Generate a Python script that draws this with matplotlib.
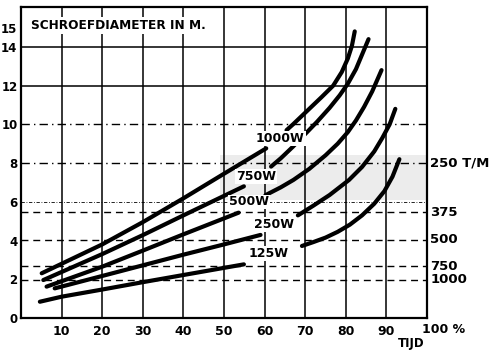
import matplotlib
matplotlib.use('Agg')
import matplotlib.pyplot as plt
import matplotlib.patches as mpatches

plt.rcParams['font.family'] = ['DejaVu Sans']

# data
pct_ticks = [10, 20, 30, 40, 50, 60, 70, 80, 90]
diam_ticks = [0, 2, 4, 6, 8, 10, 12, 14, 15]

rpm_labels = ['250 T/M', '375', '500', '750', '1000']
rpm_diam = [8.0, 5.45, 4.03, 2.68, 1.98]

power_labels = ['1000W', '750W', '500W', '250W', '125W']
label_pos = [(63.9, 9.28), (57.9, 7.3), (56.1, 6.0), (62.4, 4.84), (60.9, 3.34)]

# each curve is drawn in two pieces: below and above its label
lower_x = [
    [5.1, 20, 30, 40, 50, 60.4],
    [5.5, 20, 30, 40, 54.9],
    [6.3, 20, 30, 40, 53.6],
    [8.3, 20, 30, 40, 50, 59.0],
    [4.65, 10, 20, 30, 40, 54.9],
]
lower_y = [
    [2.31, 3.8, 4.95, 6.18, 7.45, 8.76],
    [1.96, 3.3, 4.28, 5.3, 6.8],
    [1.62, 2.65, 3.48, 4.32, 5.44],
    [1.53, 2.17, 2.72, 3.27, 3.8, 4.29],
    [0.84, 1.1, 1.47, 1.85, 2.22, 2.77],
]
upper_x = [
    [65.4, 67, 69, 71.5, 74, 76.9, 79, 80.5, 81.5, 82.2],
    [61.6, 64, 67, 70, 73, 76, 78.5, 80.5, 82.5, 84, 85.6],
    [60.2, 64, 67.1, 71, 75, 78, 80.5, 82.5, 84.5, 86.5, 88.8],
    [68.2, 72, 76, 80.8, 84, 87, 89, 90.8, 92.2],
    [69.2, 72, 75, 78, 81, 84, 87, 89.5, 91.5, 93.2],
]
upper_y = [
    [9.7, 10.0, 10.4, 10.9, 11.4, 12.0, 12.7, 13.4, 14.05, 14.8],
    [7.82, 8.25, 8.85, 9.5, 10.15, 10.85, 11.5, 12.1, 12.85, 13.6, 14.4],
    [6.34, 6.75, 7.13, 7.7, 8.4, 9.0, 9.6, 10.2, 10.9, 11.7, 12.8],
    [5.3, 5.8, 6.35, 7.13, 7.8, 8.6, 9.3, 10.0, 10.8],
    [3.72, 3.92, 4.15, 4.45, 4.82, 5.3, 5.9, 6.55, 7.3, 8.2],
]

fig = plt.figure(figsize=(4.97, 3.53), dpi=100)
ax = fig.add_axes([21 / 497, 1 - 318 / 353, 406 / 497, 311 / 353])
ax.set_xlim(0, 100)
ax.set_ylim(0, 16.06)

# faint grey scan shading
ax.add_patch(mpatches.Rectangle((49, 6.1), 51, 2.3, color='#ececec', lw=0, zorder=0))

# grid
for x in pct_ticks:
    ax.axvline(x, color='black', lw=1.1, zorder=1)
for y in [12, 14]:
    ax.axhline(y, color='black', lw=1.1, zorder=1)
ax.axhline(10, color='black', lw=1.0, dashes=(6, 3, 1, 3), zorder=1)
ax.axhline(6, color='black', lw=0.6, dashes=(4, 2, 1, 2), zorder=1)
for i, y in enumerate(rpm_diam):
    if i == 0:
        ax.axhline(y, color='black', lw=1.0, dashes=(6, 3, 1, 3), zorder=1)
    else:
        ax.axhline(y, color='black', lw=1.0, dashes=(5, 3.5), zorder=1)
    ax.text(100.8, y, rpm_labels[i], ha='left', va='center', fontsize=9.5,
            fontweight='bold', clip_on=False)

# curves
for i in range(len(power_labels)):
    ax.plot(lower_x[i], lower_y[i], color='black', lw=3.0,
            solid_capstyle='round', solid_joinstyle='round', zorder=3)
    ax.plot(upper_x[i], upper_y[i], color='black', lw=3.0,
            solid_capstyle='round', solid_joinstyle='round', zorder=3)
    lx, ly = label_pos[i]
    ax.text(lx, ly, power_labels[i], ha='center', va='center', fontsize=9,
            fontweight='bold', zorder=4,
            bbox=dict(facecolor='white', edgecolor='none', pad=0.5))

# axes, ticks
for s in ax.spines.values():
    s.set_linewidth(1.6)
ax.set_xticks(pct_ticks)
ax.set_yticks(diam_ticks)
ax.tick_params(axis='x', length=0, labelsize=9, pad=5)
ax.tick_params(axis='y', length=0, labelsize=8.5, pad=2.5)
for lab in ax.get_xticklabels() + ax.get_yticklabels():
    lab.set_fontweight('bold')

ax.text(104.2, -0.6, '100 %', ha='center', va='center', fontsize=9,
        fontweight='bold', clip_on=False)
ax.text(96.1, -1.3, 'TIJD', ha='center', va='center', fontsize=8.5,
        fontweight='bold', clip_on=False)

ax.text(2.4, 15.1, 'SCHROEFDIAMETER IN M.', ha='left', va='center',
        fontsize=8.7, fontweight='bold', zorder=4,
        bbox=dict(facecolor='white', edgecolor='none', pad=1.5))

fig.savefig('out.png', dpi=100)
